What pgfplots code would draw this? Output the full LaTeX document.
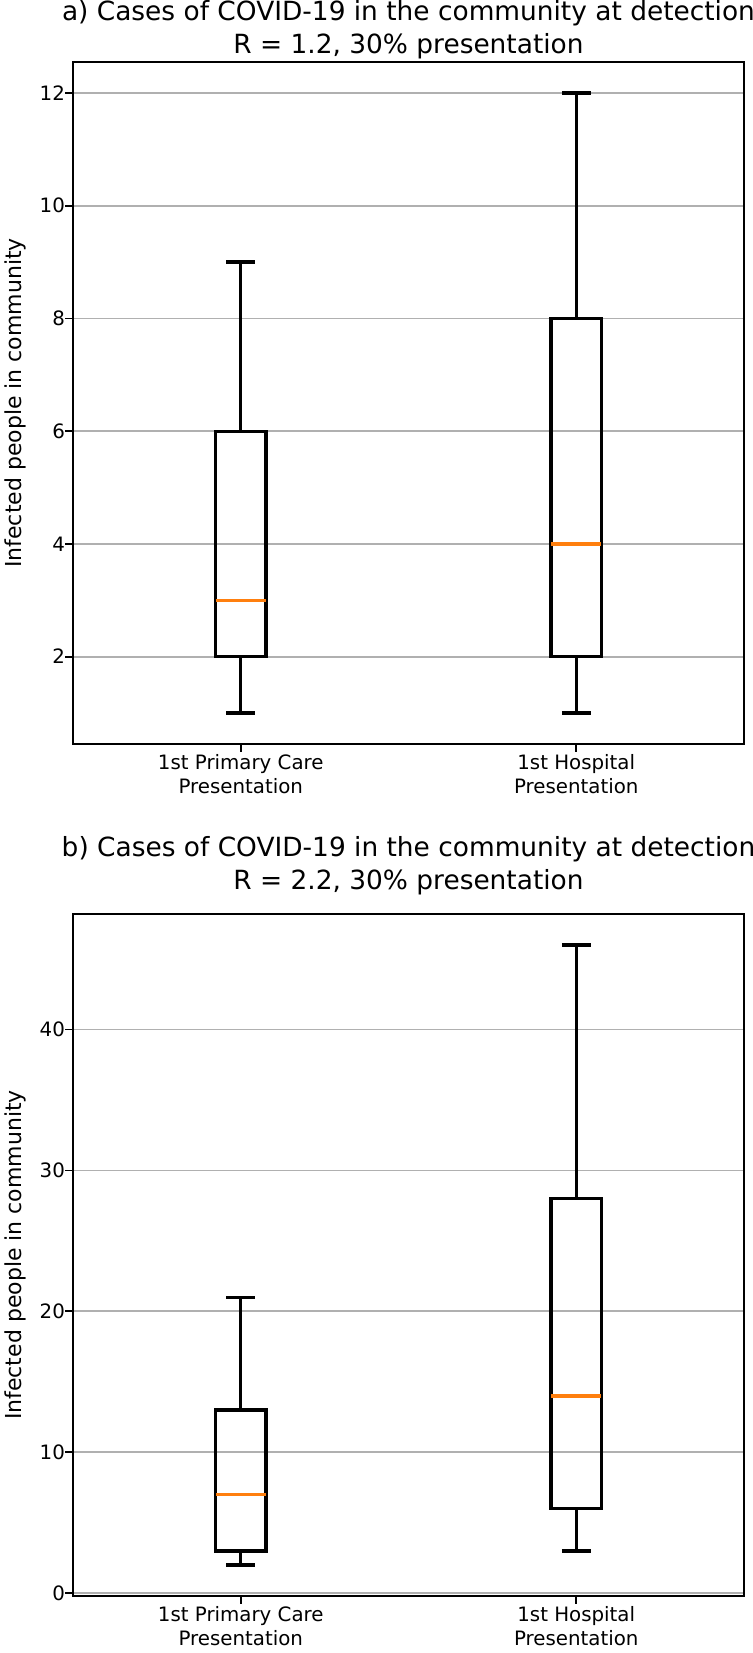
\documentclass[border=0pt]{standalone}
\usepackage{fontspec}
\setmainfont{DejaVu Sans}
\usepackage{pgfplots}
\pgfplotsset{compat=1.18}
\usepgfplotslibrary{statistics}
\definecolor{mplorange}{HTML}{FF7F0E}
\definecolor{mplgrid}{HTML}{B0B0B0}

% shared look of both panels (1px of the reference = 1/2.2 pt)
\pgfplotsset{
  covid/.style={
    scale only axis, width=305pt, height=310pt,
    anchor=south west,
    xmin=0.5, xmax=2.5,
    xtick={1,2},
    xticklabels={1st Primary Care\\Presentation, 1st Hospital\\Presentation},
    xticklabel style={align=center, font=\fontsize{9}{10.8}\selectfont, yshift=2.2pt},
    yticklabel style={font=\fontsize{9}{10.8}\selectfont, anchor=east, inner sep=0pt},
    tick pos=left, tick align=outside, major tick length=3.5pt,
    tick style={black, line width=0.8pt},
    ymajorgrids, major grid style={mplgrid, line width=0.8pt},
    axis line style={line width=1.1pt},
    font=\fontsize{10}{12}\selectfont,
    /pgf/number format/assume math mode=true,
    title style={font=\fontsize{12}{15}\selectfont, align=center},
    ylabel={Infected people in community},
    ylabel style={yshift=2.5pt},
    boxplot/draw direction=y,
    boxplot/box extend=0.15,
    boxplot/whisker extend=0.085,
    boxplot/every box/.style={draw=black, line width=1.5pt},
    boxplot/every whisker/.style={draw=black, line width=1.5pt},
    boxplot/every median/.style={draw=mplorange, line width=1.5pt},
  },
}

\begin{document}
\begin{tikzpicture}
\path[use as bounding box] (0,0) rectangle (342.27pt,-751.36pt);

% ---------- panel a ----------
\begin{axis}[covid,
  at={(33.18pt,-338.18pt)},
  ymin=0.45, ymax=12.55,
  ytick={2,4,...,12},
  title={a) Cases of COVID-19 in the community at detection\\R = 1.2, 30\% presentation},
  title style={yshift=-8pt},
]
  \addplot[black, boxplot prepared={draw position=1,
    lower whisker=1, lower quartile=2, median=3,
    upper quartile=6, upper whisker=9}] coordinates {};
  \addplot[black, boxplot prepared={draw position=2,
    lower whisker=1, lower quartile=2, median=4,
    upper quartile=8, upper whisker=12}] coordinates {};
\end{axis}

% ---------- panel b ----------
\begin{axis}[covid,
  at={(33.18pt,-725.45pt)},
  ymin=-0.2, ymax=48.2,
  ytick={0,10,...,40},
  title={b) Cases of COVID-19 in the community at detection\\R = 2.2, 30\% presentation},
  title style={yshift=-1pt},
]
  \addplot[black, boxplot prepared={draw position=1,
    lower whisker=2, lower quartile=3, median=7,
    upper quartile=13, upper whisker=21}] coordinates {};
  \addplot[black, boxplot prepared={draw position=2,
    lower whisker=3, lower quartile=6, median=14,
    upper quartile=28, upper whisker=46}] coordinates {};
\end{axis}
\end{tikzpicture}
\end{document}
